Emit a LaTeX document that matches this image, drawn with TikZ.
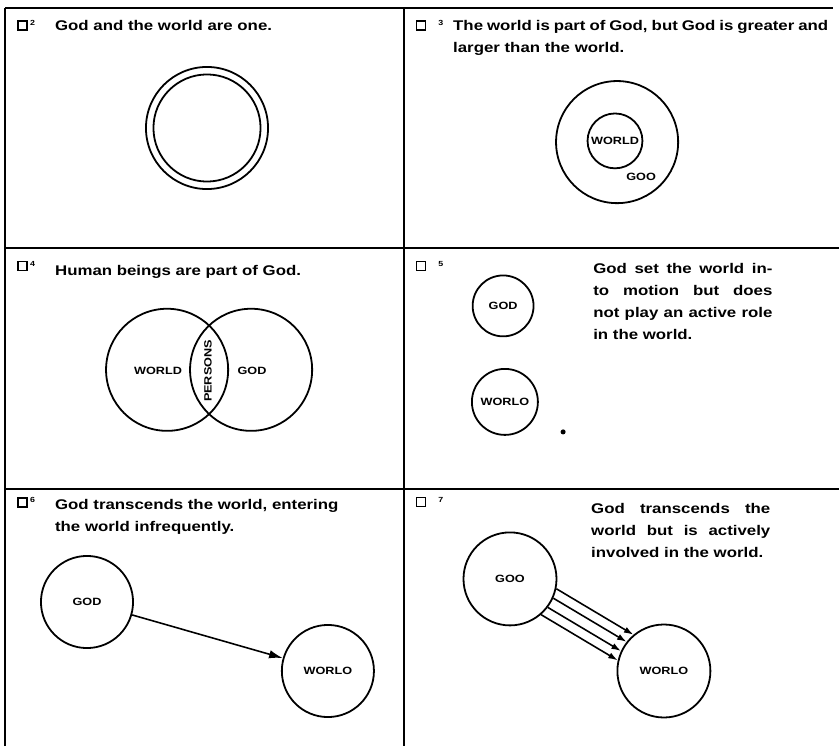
\documentclass[tikz,border=0pt]{standalone}
\usepackage{fontspec}
\newfontfamily\panelfont{Liberation Sans}[FakeStretch=1.2]
\usetikzlibrary{arrows.meta}
\newcommand{\fillline}[1]{\makebox[\hsize][s]{#1}}

\begin{document}
\begin{tikzpicture}[
  font=\panelfont\bfseries\fontsize{13.3}{21}\selectfont,
  rule/.style={line width=1.8pt},
  ring/.style={draw,circle,line width=1.7pt,inner sep=0pt},
  lbl/.style={font=\panelfont\bfseries\fontsize{10}{12}\selectfont,inner sep=0pt},
  chk/.style={draw,line width=1.3pt,minimum size=0.3cm,inner sep=0pt},
  num/.style={font=\panelfont\bfseries\fontsize{7}{8}\selectfont,inner sep=0pt,anchor=north west},
  heading/.style={anchor=base west,inner sep=0pt,align=left},
  block/.style={heading,align=justify},
  shoot/.style={line width=1.5pt,-{Latex[length=13pt,width=8pt]}},
  push/.style={line width=1.5pt,-{Latex[length=9pt,width=6pt]}}]

\useasboundingbox (0,0) rectangle (27.967,24.867);

% frame of the six panels
\draw[rule,line width=2.6pt] (0.17,0) -- (0.17,24.6);
\draw[rule] (0.17,24.6) -- (27.77,24.6);
\draw[rule] (13.47,24.6) -- (13.47,0);
\draw[rule] (0.17,16.6) -- (27.97,16.6);
\draw[rule] (0.17,8.57) -- (27.97,8.57);

% panel 2
\node[chk] (b2) at (0.75,24.02) {};
\node[num] (n2) at ([xshift=2pt]b2.north east) {2};
\node[heading] (t2) at (1.83,23.86) {God and the world are one.};
\node[ring,minimum size=4.07cm] (one) at (6.9,20.6) {};
\node[ring,minimum size=3.57cm] (oneinner) at (6.9,20.6) {};

% panel 3
\node[chk] (b3) at (14.03,24.02) {};
\node[num] (n3) at ([xshift=0.4cm]b3.north east) {3};
\node[block,text width=12.5cm] (t3) at (15.1,23.85) {\fillline{The world is part of God, but God is greater and}\\larger than the world.};
\node[ring,minimum size=4.07cm] (god3) at (20.57,20.13) {};
\node[ring,lbl,minimum size=1.83cm] (world3) at (20.5,20.17) {WORLD};
\node[lbl] (godname3) at (21.37,18.97) {GOO};

% panel 4
\node[chk] (b4) at (0.75,16.0) {};
\node[num] (n4) at ([xshift=2pt]b4.north east) {4};
\node[heading] (t4) at (1.83,15.68) {Human beings are part of God.};
\node[ring,minimum size=4.07cm] (world4) at (5.57,12.54) {};
\node[ring,minimum size=4.07cm] (god4) at (8.37,12.54) {};
\node[lbl] (worldname4) at (5.27,12.5) {WORLD};
\node[lbl] (godname4) at (8.4,12.5) {GOD};
\node[lbl,rotate=90] (persons) at (6.93,12.5) {PERSONS};

% panel 5
\node[chk] (b5) at (14.03,16.0) {};
\node[num] (n5) at ([xshift=0.4cm]b5.north east) {5};
\node[block,text width=5.97cm] (t5) at (19.77,15.75) {\fillline{God set the world in-}\\\fillline{to motion but does}\\\fillline{not play an active role}\\in the world.};
\node[ring,lbl,minimum size=2.03cm] (god5) at (16.77,14.67) {GOD};
\node[ring,lbl,minimum size=2.2cm] (world5) at (16.83,11.47) {WORLO};
\node[circle,fill,inner sep=1.7pt] (speck) at (18.77,10.47) {};

% panel 6
\node[chk] (b6) at (0.75,8.12) {};
\node[num] (n6) at ([xshift=2pt]b6.north east) {6};
\node[heading,text width=10cm] (t6) at (1.83,7.88) {God transcends the world, entering\\the world infrequently.};
\node[ring,lbl,minimum size=3.07cm] (god6) at (2.9,4.8) {GOD};
\node[ring,lbl,minimum size=3.07cm] (world6) at (10.93,2.5) {WORLO};
\draw[shoot] (god6) -- (world6);

% panel 7
\node[chk] (b7) at (14.03,8.13) {};
\node[num] (n7) at ([xshift=0.4cm]b7.north east) {7};
\node[block,text width=5.97cm] (t7) at (19.7,7.76) {\fillline{God transcends the}\\\fillline{world but is actively}\\involved in the world.};
\node[ring,lbl,minimum size=3.1cm] (god7) at (17.0,5.57) {GOO};
\node[ring,lbl,minimum size=3.1cm] (world7) at (22.13,2.5) {WORLO};
\foreach \s/\e in {-49.7/167.9,-37.1/155.3,-24.7/142.9,-12.1/130.3}
  \draw[push] (god7.\s) -- (world7.\e);
\end{tikzpicture}
\end{document}
